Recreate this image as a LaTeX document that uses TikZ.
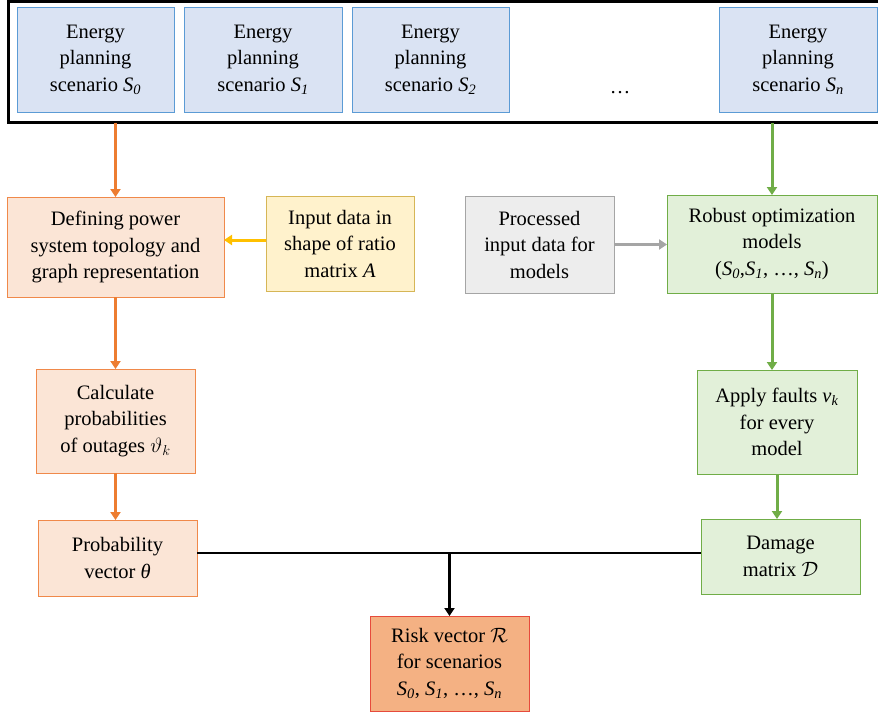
\documentclass[tikz,border=0pt]{standalone}
\usepackage{fontspec}
\setmainfont{Liberation Serif}
\usetikzlibrary{arrows.meta}
\definecolor{bfill}{HTML}{DAE3F3}
\definecolor{bdraw}{HTML}{5B9BD5}
\definecolor{ofill}{HTML}{FBE5D6}
\definecolor{odraw}{HTML}{F0894A}
\definecolor{oarrow}{HTML}{ED7D31}
\definecolor{yfill}{HTML}{FFF2CC}
\definecolor{ydraw}{HTML}{D6B656}
\definecolor{yarrow}{HTML}{FFC000}
\definecolor{gfill}{HTML}{EDEDED}
\definecolor{gdraw}{HTML}{A5A5A5}
\definecolor{grfill}{HTML}{E2F0D9}
\definecolor{grdraw}{HTML}{70AD47}
\definecolor{rfill}{HTML}{F4B183}
\definecolor{rdraw}{HTML}{E64B3C}
\newcommand{\Ssub}[1]{\textit{S}\textsubscript{\textit{#1}}}
\tikzset{
  boxbase/.style={rectangle, inner sep=0pt, outer sep=0pt, line width=1pt, align=center,
    font=\fontsize{20.5}{26.5}\selectfont},
  bluebox/.style={boxbase, fill=bfill, draw=bdraw},
  orangebox/.style={boxbase, fill=ofill, draw=odraw},
  yellowbox/.style={boxbase, fill=yfill, draw=ydraw},
  graybox/.style={boxbase, fill=gfill, draw=gdraw},
  greenbox/.style={boxbase, fill=grfill, draw=grdraw},
  riskbox/.style={boxbase, fill=rfill, draw=rdraw},
  arr/.style={line width=3pt, -{Triangle[width=10pt,length=8pt]}},
}
\begin{document}
\begin{tikzpicture}[x=1pt,y=-1pt]
\useasboundingbox (0,0) rectangle (878,715);
\fill[white] (0,0) rectangle (878,715);
\node[draw=black, line width=3pt, inner sep=0pt, outer sep=0pt, minimum width=874pt, minimum height=121pt] (frame) at (445,62) {};
\node[bluebox, minimum width=157pt, minimum height=105pt] (s0) at (95.5,59.5) {Energy\\planning\\scenario \Ssub{0}};
\node[bluebox, minimum width=158pt, minimum height=105pt] (s1) at (263,59.5) {Energy\\planning\\scenario \Ssub{1}};
\node[bluebox, minimum width=157pt, minimum height=105pt] (s2) at (430.5,59.5) {Energy\\planning\\scenario \Ssub{2}};
\node[bluebox, minimum width=158pt, minimum height=105pt] (sn) at (798,59.5) {Energy\\planning\\scenario \Ssub{n}};
\node[inner sep=0pt, font=\fontsize{20.5}{26.5}\selectfont] (dots) at (620,93) {…};
\node[orangebox, minimum width=217pt, minimum height=100pt] (def) at (115.5,247) {Defining power\\system topology and\\graph representation};
\node[yellowbox, minimum width=148pt, minimum height=95pt] (inp) at (340,243.5) {Input data in\\shape of ratio\\matrix \textit{A}};
\node[graybox, minimum width=149pt, minimum height=97pt] (proc) at (539.5,244.5) {Processed\\input data for\\models};
\node[greenbox, minimum width=210pt, minimum height=98pt] (rob) at (772,244) {Robust optimization\\models\\(\Ssub{0},\Ssub{1}, …, \Ssub{n})};
\node[orangebox, minimum width=159pt, minimum height=104pt] (calc) at (115.5,421) {Calculate\\probabilities\\of outages $\vartheta_k$};
\node[orangebox, minimum width=159pt, minimum height=76pt] (prob) at (117.5,558) {Probability\\vector \textit{θ}};
\node[greenbox, minimum width=160pt, minimum height=104pt] (apply) at (777,422) {Apply faults \textit{v}\textsubscript{\textit{k}}\\for every\\model};
\node[greenbox, minimum width=159pt, minimum height=75pt] (dmg) at (780.5,556.5) {Damage\\matrix $\mathcal{D}$};
\node[riskbox, minimum width=159pt, minimum height=95pt] (risk) at (449.5,663.5) {Risk vector $\mathcal{R}$\\for scenarios\\\Ssub{0}, \Ssub{1}, …, \Ssub{n}};
% connectors
\draw[arr, draw=oarrow, fill=oarrow] (frame.south -| def.north) -- (def.north);
\draw[arr, draw=grdraw, fill=grdraw] (frame.south -| rob.north) -- (rob.north);
\draw[arr, draw=oarrow, fill=oarrow] (def.south) -- (calc.north);
\draw[arr, draw=oarrow, fill=oarrow] (calc.south) -- (calc.south |- prob.north);
\draw[arr, draw=yarrow, fill=yarrow] (inp.west |- 0,240) -- (def.east |- 0,240);
\draw[arr, draw=gdraw, fill=gdraw] (proc.east) -- (rob.west |- proc.east);
\draw[arr, draw=grdraw, fill=grdraw] (rob.south) -- (rob.south |- apply.north);
\draw[arr, draw=grdraw, fill=grdraw] (apply.south |- 0,474) -- (apply.south |- dmg.north);
\coordinate (junc) at (449.5,553);
\draw[line width=2.5pt] (prob.east |- junc) -- (dmg.west |- junc);
\draw[arr, draw=black, fill=black] (junc) -- (risk.north);
\end{tikzpicture}
\end{document}
